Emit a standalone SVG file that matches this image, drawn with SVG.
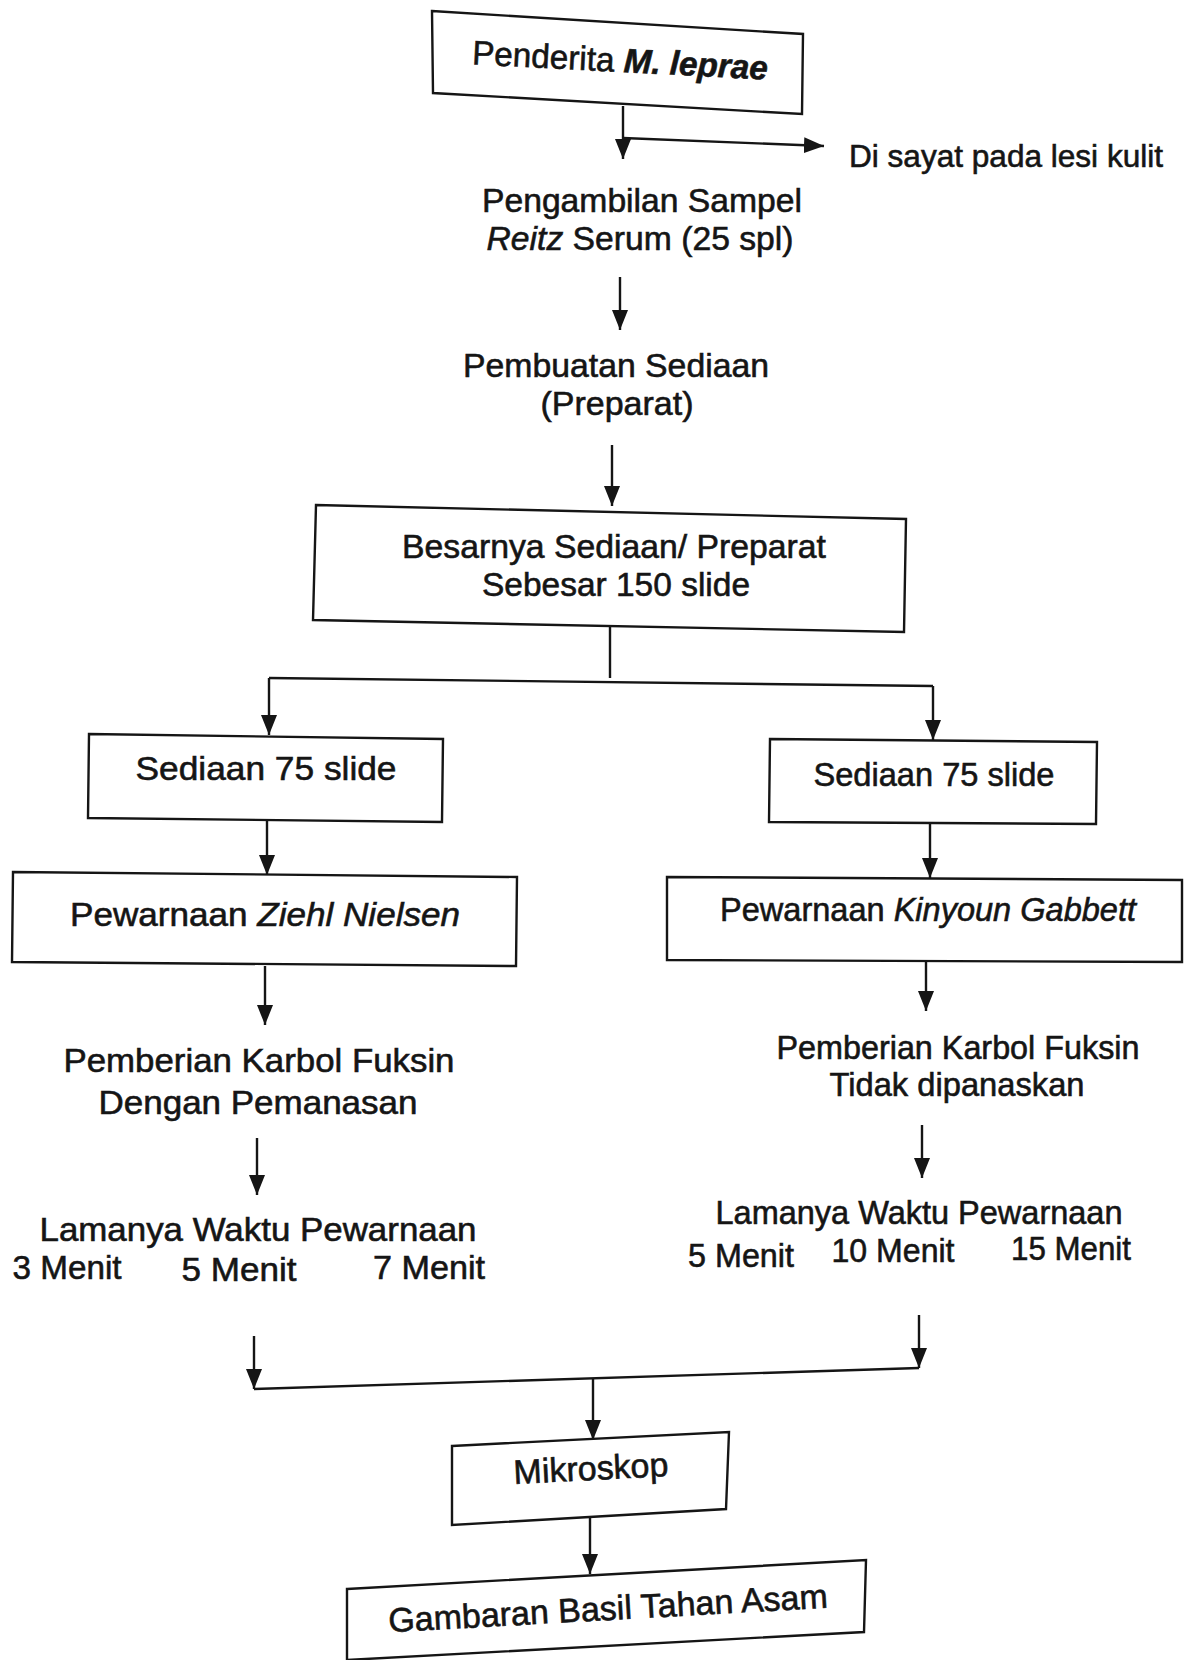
<svg xmlns="http://www.w3.org/2000/svg" width="1184" height="1660" viewBox="0 0 1184 1660">
<style>
.box{fill:#fff;stroke:#151515;stroke-width:2.4}
.c{stroke:#151515;stroke-width:2.4;fill:none}
.t{font-family:"Liberation Sans",Arial,sans-serif;fill:#151515;stroke:#151515;stroke-width:0.6;text-anchor:middle;font-size:34px}
.i{font-style:italic}
</style>
<defs>
<marker id="ah" markerUnits="userSpaceOnUse" viewBox="0 -9 20 18" refX="20" refY="0" markerWidth="20" markerHeight="18" orient="auto">
<path d="M0,-8 L20,0 L0,8 Z" fill="#151515"/>
</marker>
</defs>
<rect width="1184" height="1660" fill="#fff"/>
<g id="connectors">
<path class="c" d="M623,106 V159" marker-end="url(#ah)"/>
<path class="c" d="M623,138 L824,146" marker-end="url(#ah)"/>
<path class="c" d="M620,277 V330" marker-end="url(#ah)"/>
<path class="c" d="M612,445 V506" marker-end="url(#ah)"/>
<path class="c" d="M610,627 V678"/>
<path class="c" d="M269,678 L933,686"/>
<path class="c" d="M269,678 V735" marker-end="url(#ah)"/>
<path class="c" d="M933,686 V740" marker-end="url(#ah)"/>
<path class="c" d="M267,821 V875" marker-end="url(#ah)"/>
<path class="c" d="M930,824 V878" marker-end="url(#ah)"/>
<path class="c" d="M265,966 V1025" marker-end="url(#ah)"/>
<path class="c" d="M926,962 V1011" marker-end="url(#ah)"/>
<path class="c" d="M257,1138 V1195" marker-end="url(#ah)"/>
<path class="c" d="M922,1125 V1178" marker-end="url(#ah)"/>
<path class="c" d="M254,1336 V1389" marker-end="url(#ah)"/>
<path class="c" d="M919,1315 V1368" marker-end="url(#ah)"/>
<path class="c" d="M254,1389 L919,1368"/>
<path class="c" d="M593,1379 V1440" marker-end="url(#ah)"/>
<path class="c" d="M590,1518 V1574" marker-end="url(#ah)"/>
</g>
<g id="n-penderita">
<polygon class="box" points="432,11 803,34 802,114 433,93"/>
<text class="t" x="620" y="72" textLength="296" lengthAdjust="spacingAndGlyphs" transform="rotate(3 620 62)">Penderita <tspan class="i" font-weight="bold">M. leprae</tspan></text>
</g>
<g id="n-sayat">
<text class="t" x="1006" y="167" font-size="32" textLength="314" lengthAdjust="spacingAndGlyphs" style="font-size:32px">Di sayat pada lesi kulit</text>
</g>
<g id="n-sampel">
<text class="t" x="642" y="212" textLength="320" lengthAdjust="spacingAndGlyphs">Pengambilan Sampel</text>
<text class="t" x="640" y="250" textLength="307" lengthAdjust="spacingAndGlyphs"><tspan class="i">Reitz</tspan> Serum (25 spl)</text>
</g>
<g id="n-pembuatan">
<text class="t" x="616" y="377" textLength="306" lengthAdjust="spacingAndGlyphs">Pembuatan Sediaan</text>
<text class="t" x="617" y="415" textLength="153" lengthAdjust="spacingAndGlyphs">(Preparat)</text>
</g>
<g id="n-besarnya">
<polygon class="box" points="316,505 906,519 904,632 313,620"/>
<text class="t" x="614" y="558" textLength="424" lengthAdjust="spacingAndGlyphs">Besarnya Sediaan/ Preparat</text>
<text class="t" x="616" y="596" textLength="268" lengthAdjust="spacingAndGlyphs">Sebesar 150 slide</text>
</g>
<g id="n-sediaan-l">
<polygon class="box" points="89,734 443,739 442,822 88,818"/>
<text class="t" x="266" y="780" textLength="261" lengthAdjust="spacingAndGlyphs">Sediaan 75 slide</text>
</g>
<g id="n-sediaan-r">
<polygon class="box" points="770,739 1097,742 1096,824 769,822"/>
<text class="t" x="934" y="786" textLength="241" lengthAdjust="spacingAndGlyphs">Sediaan 75 slide</text>
</g>
<g id="n-ziehl">
<polygon class="box" points="13,872 517,877 516,966 12,962"/>
<text class="t" x="265" y="926" textLength="390" lengthAdjust="spacingAndGlyphs">Pewarnaan <tspan class="i">Ziehl Nielsen</tspan></text>
</g>
<g id="n-kinyoun">
<polygon class="box" points="667,877 1182,880 1182,962 667,960"/>
<text class="t" x="928" y="921" textLength="416" lengthAdjust="spacingAndGlyphs">Pewarnaan <tspan class="i">Kinyoun Gabbett</tspan></text>
</g>
<g id="n-karbol-l">
<text class="t" x="259" y="1072" textLength="391" lengthAdjust="spacingAndGlyphs">Pemberian Karbol Fuksin</text>
<text class="t" x="258" y="1114" textLength="319" lengthAdjust="spacingAndGlyphs">Dengan Pemanasan</text>
</g>
<g id="n-karbol-r">
<text class="t" x="958" y="1059" textLength="363" lengthAdjust="spacingAndGlyphs">Pemberian Karbol Fuksin</text>
<text class="t" x="957" y="1096" textLength="255" lengthAdjust="spacingAndGlyphs">Tidak dipanaskan</text>
</g>
<g id="n-waktu-l">
<text class="t" x="258" y="1241" textLength="437" lengthAdjust="spacingAndGlyphs">Lamanya Waktu Pewarnaan</text>
<text class="t" x="67" y="1279" textLength="109" lengthAdjust="spacingAndGlyphs">3 Menit</text>
<text class="t" x="239" y="1281" textLength="115" lengthAdjust="spacingAndGlyphs">5 Menit</text>
<text class="t" x="429" y="1279" textLength="112" lengthAdjust="spacingAndGlyphs">7 Menit</text>
</g>
<g id="n-waktu-r">
<text class="t" x="919" y="1224" textLength="407" lengthAdjust="spacingAndGlyphs">Lamanya Waktu Pewarnaan</text>
<text class="t" x="741" y="1267" textLength="106" lengthAdjust="spacingAndGlyphs">5 Menit</text>
<text class="t" x="893" y="1262" textLength="123" lengthAdjust="spacingAndGlyphs">10 Menit</text>
<text class="t" x="1071" y="1260" textLength="120" lengthAdjust="spacingAndGlyphs">15 Menit</text>
</g>
<g id="n-mikroskop">
<polygon class="box" points="452,1446 729,1432 726,1509 452,1525"/>
<text class="t" x="591" y="1480" textLength="155" lengthAdjust="spacingAndGlyphs" transform="rotate(-2.9 591 1470)">Mikroskop</text>
</g>
<g id="n-gambaran">
<polygon class="box" points="347,1589 866,1560 864,1632 347,1660"/>
<text class="t" x="608" y="1620" textLength="440" lengthAdjust="spacingAndGlyphs" transform="rotate(-3.2 608 1610)">Gambaran Basil Tahan Asam</text>
</g>
</svg>
